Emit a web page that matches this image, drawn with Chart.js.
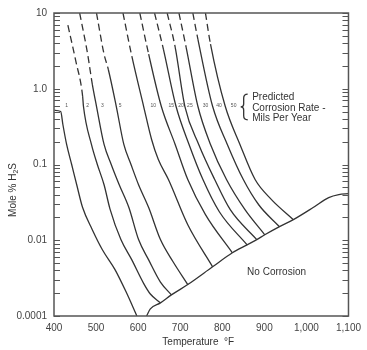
<!DOCTYPE html>
<html>
<head>
<meta charset="utf-8">
<script src="https://cdn.jsdelivr.net/npm/chart.js@4.4.1/dist/chart.umd.min.js"></script>
<style>
  html, body { margin: 0; padding: 0; background: #fff; }
</style>
</head>
<body>
<canvas id="chart" width="367" height="350"></canvas>
<script>
// corrosion rate curves (mils per year), temperature in deg F vs mole % H2S
const rateLabels = ['1', '2', '3', '5', '10', '15', '20', '25', '30', '40', '50'];
const rateTemps = [
    [401, 416, 421, 430, 442, 454, 468, 491, 515, 545, 571, 597],
    [433, 452, 468, 470, 489, 503, 519, 533, 559, 585, 613, 629, 653],
    [461, 480, 491, 501, 519, 536, 555, 578, 601, 625, 653, 679],
    [501, 519, 529, 548, 566, 583, 601, 625, 653, 683, 718],
    [564, 585, 613, 632, 648, 672, 718, 777],
    [604, 625, 655, 688, 718, 760, 824],
    [639, 660, 690, 721, 754, 793, 859],
    [669, 688, 711, 744, 782, 819, 882],
    [697, 714, 742, 772, 810, 854, 901],
    [730, 742, 777, 812, 850, 887, 936],
    [760, 772, 807, 842, 878, 917, 969]
];
const rateMole = [
    [0.52, 0.50, 0.34, 0.184, 0.10, 0.054, 0.027, 0.0138, 0.0075, 0.0041, 0.0021, 0.001],
    [6.9, 2.3, 0.80, 0.587, 0.184, 0.10, 0.054, 0.026, 0.0102, 0.0055, 0.0027, 0.00195, 0.00149],
    [10, 2.86, 1.15, 0.587, 0.184, 0.10, 0.054, 0.027, 0.0102, 0.0055, 0.0028, 0.0019],
    [10, 2.86, 1.81, 0.587, 0.184, 0.10, 0.054, 0.027, 0.0102, 0.0052, 0.0026],
    [10, 2.69, 0.587, 0.214, 0.116, 0.0633, 0.016, 0.00446],
    [10, 2.86, 0.587, 0.184, 0.0633, 0.0218, 0.00683],
    [10, 3.34, 0.587, 0.184, 0.0633, 0.0238, 0.0087],
    [10, 3.55, 0.587, 0.184, 0.0633, 0.0253, 0.0102],
    [10, 3.55, 0.587, 0.184, 0.0633, 0.0253, 0.0118],
    [10, 4.53, 0.587, 0.184, 0.0633, 0.0292, 0.0151],
    [10, 3.88, 0.587, 0.184, 0.0633, 0.0344, 0.0187]
];
// curves are dashed (extrapolated) above these values
const dashAbove = [Infinity, 0.80, 1.15, 1.81, 2.69, 2.86, 3.34, 3.55, 3.55, 4.53, 3.88];
// where the little rate numbers sit
const rateLabelTemps = [430, 480, 515, 557, 636, 679, 702, 723, 760, 792, 827];
const rateLabelMole = 0.59;

// lower limit, below it no corrosion
const noCorrTemps = [620, 629, 653, 679, 718, 777, 824, 859, 882, 901, 936, 969, 1016, 1053, 1077, 1100];
const noCorrMole = [0.001, 0.00124, 0.00149, 0.0019, 0.0026, 0.00446, 0.00683, 0.0087, 0.0102, 0.0118, 0.0151, 0.0187, 0.027, 0.0366, 0.0401, 0.0413];

// axis ticks
const xTicks = [400, 500, 600, 700, 800, 900, 1000, 1100];
const yTickVals = [0.001, 0.01, 0.1, 1, 10];
const yTickText = ['0.0001', '0.01', '0.1', '1.0', '10'];

const FONT = 'Liberation Sans, Arial, sans-serif';
const INK = '#333';

function fmtTemp(v) {
    if (v >= 1000) return Math.floor(v / 1000) + ',' + String(v % 1000).padStart(3, '0');
    return String(v);
}

const datasets = rateTemps.map((ts, i) => ({
    label: rateLabels[i],
    data: ts.map((t, j) => ({ x: t, y: rateMole[i][j] })),
    showLine: true,
    borderColor: INK,
    borderWidth: 1.3,
    pointRadius: 0,
    cubicInterpolationMode: 'monotone',
    segment: {
        borderDash: ctx => ctx.p1.parsed.y >= dashAbove[i] ? [7, 4] : undefined
    }
}));
datasets.push({
    label: 'No Corrosion',
    data: noCorrTemps.map((t, j) => ({ x: t, y: noCorrMole[j] })),
    showLine: true,
    borderColor: INK,
    borderWidth: 1.3,
    pointRadius: 0,
    cubicInterpolationMode: 'monotone'
});

// frame, inside minor ticks, titles and notes
const overlay = {
    id: 'overlay',
    afterDatasetsDraw(chart) {
        const { ctx, chartArea: a, scales: { x, y } } = chart;
        ctx.save();

        ctx.strokeStyle = '#555';
        ctx.lineWidth = 1.5;
        ctx.strokeRect(a.left, a.top, a.right - a.left, a.bottom - a.top);

        ctx.lineWidth = 1;
        for (let d = -3; d <= 1; d++) {
            for (let k = 1; k <= 9; k++) {
                const v = k * Math.pow(10, d);
                if (v > 10) break;
                const py = Math.round(y.getPixelForValue(v)) + 0.5;
                ctx.beginPath();
                ctx.moveTo(a.left, py); ctx.lineTo(a.left + 6, py);
                ctx.moveTo(a.right, py); ctx.lineTo(a.right - 6, py);
                ctx.stroke();
            }
        }

        // little rate numbers
        ctx.fillStyle = '#555';
        ctx.font = '5px ' + FONT;
        ctx.textAlign = 'center';
        ctx.textBaseline = 'middle';
        rateLabels.forEach((s, i) => {
            ctx.fillText(s, x.getPixelForValue(rateLabelTemps[i]), y.getPixelForValue(rateLabelMole));
        });

        // brace + note
        const bx = x.getPixelForValue(858);
        const bt = y.getPixelForValue(0.85);
        const bb = y.getPixelForValue(0.39);
        const bm = (bt + bb) / 2;
        ctx.strokeStyle = INK;
        ctx.lineWidth = 1.3;
        ctx.beginPath();
        ctx.moveTo(bx + 1, bt);
        ctx.quadraticCurveTo(bx - 3, bt, bx - 3, bt + 4);
        ctx.lineTo(bx - 3, bm - 3);
        ctx.quadraticCurveTo(bx - 3, bm, bx - 6, bm);
        ctx.quadraticCurveTo(bx - 3, bm, bx - 3, bm + 3);
        ctx.lineTo(bx - 3, bb - 4);
        ctx.quadraticCurveTo(bx - 3, bb, bx + 1, bb);
        ctx.stroke();

        ctx.fillStyle = INK;
        ctx.font = '10px ' + FONT;
        ctx.textAlign = 'left';
        const tx = x.getPixelForValue(871);
        ctx.fillText('Predicted', tx, y.getPixelForValue(0.77));
        ctx.fillText('Corrosion Rate -', tx, y.getPixelForValue(0.56));
        ctx.fillText('Mils Per Year', tx, y.getPixelForValue(0.405));

        ctx.textAlign = 'center';
        ctx.fillText('No Corrosion', x.getPixelForValue(929), y.getPixelForValue(0.00383));

        // x title
        ctx.fillText('Temperature  \u00B0F', (a.left + a.right) / 2 - 3, 342);

        // y title with subscript
        ctx.translate(13, 190);
        ctx.rotate(-Math.PI / 2);
        ctx.font = '10px ' + FONT;
        const p1 = 'Mole % H', p3 = 'S';
        const w1 = ctx.measureText(p1).width, w3 = ctx.measureText(p3).width;
        ctx.font = '7px ' + FONT;
        const w2 = ctx.measureText('2').width;
        let sx = -(w1 + w2 + w3) / 2;
        ctx.textAlign = 'left';
        ctx.font = '10px ' + FONT;
        ctx.fillText(p1, sx, 0);
        ctx.font = '7px ' + FONT;
        ctx.fillText('2', sx + w1, 3);
        ctx.font = '10px ' + FONT;
        ctx.fillText(p3, sx + w1 + w2, 0);

        ctx.restore();
    }
};

new Chart(document.getElementById('chart'), {
    type: 'scatter',
    data: { datasets: datasets },
    options: {
        responsive: false,
        animation: false,
        layout: { padding: { top: 13, right: 14, left: 0, bottom: 0 } },
        plugins: { legend: { display: false }, tooltip: { enabled: false } },
        scales: {
            x: {
                type: 'linear',
                min: 400,
                max: 1100,
                afterBuildTicks: s => { s.ticks = xTicks.map(v => ({ value: v })); },
                afterFit: s => { s.height = 34; },
                grid: { display: false, drawTicks: false },
                border: { display: false },
                ticks: {
                    padding: 6,
                    color: '#444',
                    font: { family: FONT, size: 10 },
                    maxRotation: 0,
                    callback: v => fmtTemp(v)
                }
            },
            y: {
                type: 'logarithmic',
                min: 0.001,
                max: 10,
                afterBuildTicks: s => { s.ticks = yTickVals.map(v => ({ value: v })); },
                afterFit: s => { s.width = 54; },
                grid: { display: false, drawTicks: false },
                border: { display: false },
                ticks: {
                    padding: 7,
                    color: '#444',
                    font: { family: FONT, size: 10 },
                    callback: (v, i) => yTickText[i]
                }
            }
        }
    },
    plugins: [overlay]
});
</script>
</body>
</html>
